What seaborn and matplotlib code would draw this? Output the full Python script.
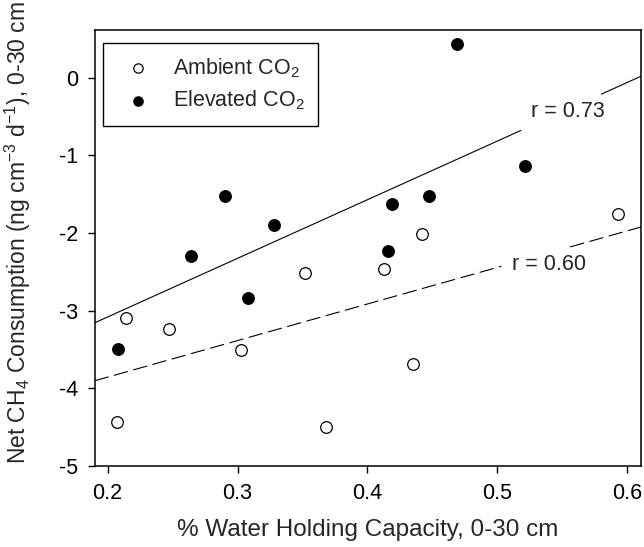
import numpy as np
import pandas as pd
import matplotlib
matplotlib.use("Agg")
import matplotlib.pyplot as plt
import seaborn as sns

# values
ambient_whc = [0.207, 0.214, 0.247, 0.303, 0.352, 0.368, 0.413, 0.435, 0.442, 0.593]
ambient_ch4 = [-4.43, -3.09, -3.23, -3.51, -2.51, -4.50, -2.46, -3.68, -2.01, -1.75]
elevated_whc = [0.208, 0.264, 0.290, 0.308, 0.328, 0.416, 0.419, 0.447, 0.469, 0.521]
elevated_ch4 = [-3.49, -2.29, -1.52, -2.83, -1.90, -2.23, -1.62, -1.52, 0.43, -1.14]

# regression lines (intercept, slope), r labels and visible spans (gap at the label)
elevated_fit = (-4.59, 7.55)
ambient_fit = (-4.797, 4.71)
elevated_r = "r = 0.73"
ambient_r = "r = 0.60"
elevated_spans = [(0.19, 0.518), (0.580, 0.611)]
ambient_spans = [(0.19, 0.503), (0.556, 0.611)]

x_ticks = [0.2, 0.3, 0.4, 0.5, 0.6]
y_ticks = [-5, -4, -3, -2, -1, 0]

sns.set_theme(style="ticks")
plt.rcParams["font.family"] = ["Liberation Sans", "DejaVu Sans"]
plt.rcParams["mathtext.fontset"] = "custom"
plt.rcParams["mathtext.rm"] = "Liberation Sans"
plt.rcParams["mathtext.it"] = "Liberation Sans:italic"
plt.rcParams["axes.unicode_minus"] = False

df = pd.concat([
    pd.DataFrame({"whc": ambient_whc, "ch4": ambient_ch4, "trt": "Ambient"}),
    pd.DataFrame({"whc": elevated_whc, "ch4": elevated_ch4, "trt": "Elevated"}),
])

fig = plt.figure(figsize=(6.44, 5.47), dpi=100)
ax = fig.add_axes([0.147, 0.148, 0.8483, 0.797])

sns.scatterplot(data=df[df.trt == "Ambient"], x="whc", y="ch4", ax=ax,
                color="white", edgecolor="black", linewidth=0.9, s=70,
                label=r"Ambient CO$_2$", zorder=3)
sns.scatterplot(data=df[df.trt == "Elevated"], x="whc", y="ch4", ax=ax,
                color="black", edgecolor="black", linewidth=0.9, s=70,
                label=r"Elevated CO$_2$", zorder=3)

for (a, b), spans, style in [(elevated_fit, elevated_spans, "-"),
                             (ambient_fit, ambient_spans, "--")]:
    for x0, x1 in spans:
        xs = np.array([x0, x1])
        line, = ax.plot(xs, a + b * xs, color="black", lw=0.8, linestyle=style, zorder=2)
        if style == "--":
            line.set_dashes((13, 5))

ax.text(0.526, -0.44, elevated_r, fontsize=15.5, ha="left", va="center")
ax.text(0.511, -2.41, ambient_r, fontsize=15.5, ha="left", va="center")

ax.set_xlim(0.19, 0.6105)
ax.set_ylim(-5, 0.614)
ax.set_xticks(x_ticks)
ax.set_xticklabels([f"{v:.1f}" for v in x_ticks])
ax.set_yticks(y_ticks)
ax.set_yticklabels([str(v) for v in y_ticks])
ax.tick_params(direction="out", length=5, width=1, pad=7, labelsize=15.5, colors="black")
for sp in ax.spines.values():
    sp.set_visible(True)
    sp.set_color("black")
    sp.set_linewidth(1.1)

ax.set_xlabel("% Water Holding Capacity, 0-30 cm", fontsize=17.5, labelpad=11)
ax.set_ylabel(r"Net CH$_4$ Consumption (ng cm$^{-3}$ d$^{-1}$), 0-30 cm", fontsize=16.5)
ax.yaxis.set_label_coords(-0.113, 0.535)

leg = ax.legend(loc="upper left", bbox_to_anchor=(0.0157, 0.971), borderaxespad=0,
                fontsize=15.5, frameon=True, fancybox=False, markerscale=0.8,
                handletextpad=0.6, labelspacing=0.42, borderpad=0.62)
leg.get_frame().set_edgecolor("black")
leg.get_frame().set_linewidth(1.0)
leg.get_frame().set_alpha(1)

fig.savefig("out.png", dpi=100)
